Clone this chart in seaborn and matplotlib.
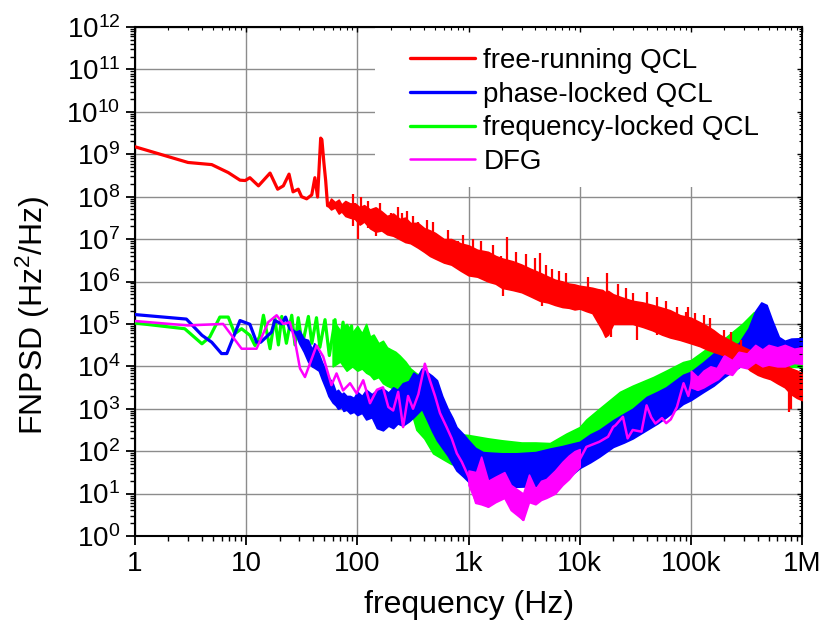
import numpy as np
import matplotlib
matplotlib.use("Agg")
import matplotlib.pyplot as plt
from matplotlib.patches import Rectangle
from matplotlib.ticker import LogLocator, NullFormatter, FixedLocator, FixedFormatter
import seaborn as sns

# ---------------- data ----------------
x_ticks = [1, 10, 100, 1e3, 1e4, 1e5, 1e6]
x_tick_labels = ["1", "10", "100", "1k", "10k", "100k", "1M"]
y_ticks = [10.0 ** k for k in range(0, 13)]
y_tick_labels = [r"$\mathregular{10^{%d}}$" % k for k in range(0, 13)]

series_names = ["free-running QCL", "phase-locked QCL", "frequency-locked QCL", "DFG"]
series_colors = ["#ff0000", "#0000ff", "#00ff00", "#ff00ff"]

# free-running QCL
red_line_f = [1, 3.0, 4.9, 6.9, 8.8, 9.8, 10.8, 12.9, 16.4, 19.2, 21.6, 24.3, 26.4, 29.4,
              31.5, 35, 38.9, 41.5, 43.9, 46.8, 48, 50, 51.9, 54, 58]
red_line_v = [1.5e9, 6.4e8, 5.7e8, 3.7e8, 2.45e8, 2.4e8, 2.8e8, 1.8e8, 3.6e8, 1.5e8, 1.8e8,
              3.4e8, 1.3e8, 1.5e8, 1.0e8, 8.9e7, 1.1e8, 2.8e8, 9.8e7, 2.4e9, 2.2e9, 6.4e8,
              2.4e8, 6.1e7, 7.0e7]
red_band_f = [54, 58, 63, 68, 72, 78, 86, 95, 105, 115, 130, 146, 165, 185, 210, 240, 270,
              300, 350, 400, 450, 500, 600, 700, 850, 1000, 1200, 1500, 1750, 2000, 2500,
              3000, 3600, 4400, 5200, 6000, 7000, 8000, 9000, 10000, 11500, 13000, 14500,
              16000, 17000, 18000, 20000, 24000, 30000, 37000, 45000, 55000, 65000, 80000,
              100000, 120000, 140000, 160000, 180000, 210000, 250000, 300000, 340000, 400000,
              450000, 520000, 600000, 700000, 800000, 900000, 1000000]
red_band_lo = [6.1e7, 5.0e7, 5.6e7, 4.0e7, 4.5e7, 3.5e7, 3.2e7, 3.0e7, 2.2e7, 2.6e7, 1.8e7,
               1.5e7, 1.6e7, 1.3e7, 1.2e7, 1.0e7, 8.5e6, 8.0e6, 6.3e6, 5.0e6, 4.0e6, 3.5e6,
               2.8e6, 2.5e6, 1.8e6, 1.4e6, 1.3e6, 1.0e6, 8.9e5, 7.1e5, 6.3e5, 5.6e5, 4.5e5,
               3.5e5, 3.2e5, 2.8e5, 2.5e5, 2.4e5, 2.2e5, 2.3e5, 2.0e5, 1.8e5, 1.1e5, 7.1e4,
               5.0e4, 5.6e4, 1.0e5, 1.0e5, 1.0e5, 8.5e4, 7.1e4, 5.6e4, 4.8e4, 4.2e4, 3.5e4,
               3.0e4, 2.5e4, 2.2e4, 2.0e4, 1.7e4, 1.4e4, 1.1e4, 8.1e3, 6.3e3, 5.6e3, 5.0e3,
               4.0e3, 3.2e3, 2.2e3, 1.8e3, 1.6e3]
red_band_hi = [6.1e7, 9.0e7, 7.4e7, 8.5e7, 6.5e7, 7.9e7, 6.9e7, 7.0e7, 5.6e7, 6.3e7, 5.0e7,
               5.6e7, 4.5e7, 3.5e7, 4.0e7, 3.0e7, 3.2e7, 2.4e7, 2.4e7, 1.8e7, 1.6e7, 1.4e7,
               1.0e7, 1.0e7, 7.9e6, 7.1e6, 5.6e6, 5.0e6, 4.0e6, 3.5e6, 3.0e6, 2.5e6, 2.0e6,
               1.6e6, 1.3e6, 1.1e6, 1.0e6, 8.9e5, 8.5e5, 7.9e5, 7.5e5, 7.1e5, 6.6e5, 6.3e5,
               5.6e5, 6.0e5, 5.0e5, 4.2e5, 3.5e5, 3.2e5, 2.8e5, 2.4e5, 2.1e5, 1.6e5, 1.4e5,
               1.1e5, 8.9e4, 7.1e4, 5.6e4, 4.5e4, 3.5e4, 2.8e4, 2.4e4, 2.0e4, 1.8e4, 1.6e4,
               1.4e4, 1.1e4, 8.9e3, 7.9e3, 6.9e3]
red_spike_f = [92, 102, 108, 125, 146, 160, 200, 230, 250, 280, 320, 350, 420, 480, 550, 650,
               800, 900, 1100, 1300, 1650, 1970, 2050, 2200, 2700, 3300, 4000, 4400, 4600,
               5000, 5600, 6500, 7500, 12000, 17500, 19000, 22000, 26000, 30000, 33000, 40000,
               50000, 60000, 75000, 90000, 95000, 110000, 130000, 150000, 200000, 230000,
               280000, 500000, 650000, 770000, 800000]
red_spike_lo = [2.0e7, 1.0e7, 2.2e7, 1.8e7, 1.2e7, 1.6e7, 1.4e7, 1.2e7, 1.6e7, 8.5e6, 8.0e6,
                1.0e7, 5.0e6, 4.0e6, 4.0e6, 2.8e6, 2.5e6, 1.8e6, 1.4e6, 1.3e6, 1.0e6, 1.5e6,
                4.5e5, 2.0e6, 6.3e5, 5.6e5, 4.5e5, 8.0e5, 2.7e5, 3.2e5, 3.2e5, 2.8e5, 2.5e5,
                2.0e5, 3.2e5, 4.8e4, 1.0e5, 1.0e5, 1.6e5, 4.1e4, 8.5e4, 5.6e4, 1.0e5, 4.2e4,
                6.3e4, 6.3e4, 3.5e4, 3.0e4, 2.5e4, 2.0e4, 1.7e4, 1.1e4, 5.0e3, 4.0e3, 8.3e2,
                1.0e3]
red_spike_hi = [1.15e8, 4.0e7, 1.0e8, 8.0e7, 3.0e7, 7.1e7, 4.2e7, 5.6e7, 4.2e7, 4.5e7, 3.5e7,
                2.5e7, 2.8e7, 2.5e7, 1.0e7, 1.6e7, 9.1e6, 1.26e7, 1.0e7, 8.9e6, 7.1e6, 4.0e6,
                2.0e6, 1.1e7, 5.0e6, 4.5e6, 3.5e6, 4.6e6, 8.0e5, 2.5e6, 2.0e6, 1.8e6, 1.6e6,
                1.26e6, 1.55e6, 2.0e5, 8.9e5, 7.1e5, 5.5e5, 1.3e5, 5.6e5, 4.2e5, 3.5e5, 2.5e5,
                1.9e5, 2.5e5, 1.8e5, 1.6e5, 1.4e5, 7.1e4, 6.3e4, 4.2e4, 2.5e4, 2.0e4, 3.2e3,
                4.0e3]

# phase-locked QCL
blue_line_f = [1, 2.9, 4.0, 4.9, 6.0, 6.7, 8.8, 10.8, 12.4, 13.5, 16.9, 18.1, 20.9, 22.6,
               24.7, 27.4, 30]
blue_line_v = [1.66e5, 1.3e5, 5.4e4, 3.7e4, 2.0e4, 2.0e4, 1.2e5, 9.8e4, 3.7e4, 3.7e4, 6.4e4,
               1.2e5, 1.0e5, 1.45e5, 7.7e4, 6.4e4, 5.0e4]
blue_band_f = [27.4, 30, 33, 36, 39, 41, 45, 48, 52, 55, 60, 64, 67, 72, 75, 80, 86, 93, 100,
               110, 120, 135, 150, 170, 190, 210, 230, 256, 290, 320, 350, 380, 430, 470, 520,
               580, 650, 720, 780, 900, 1000, 1150, 1350, 1600, 2000, 2700, 4000, 5400, 7000,
               8500, 10000, 12500, 15000, 20000, 25000, 30000, 40000, 50000, 60000, 85000,
               100000, 130000, 160000, 200000, 270000, 330000, 380000, 430000, 480000, 540000,
               620000, 700000, 800000, 1000000]
blue_band_lo = [6.4e4, 3.5e4, 2.2e4, 1.3e4, 1.0e4, 9.3e3, 7.9e3, 5.0e3, 3.0e3, 2.0e3, 1.4e3,
                1.2e3, 1.0e3, 1.1e3, 8.9e2, 9.5e2, 7.8e2, 8.5e2, 7.1e2, 8.0e2, 5.6e2, 6.3e2,
                3.5e2, 3.1e2, 4.0e2, 3.5e2, 4.5e2, 4.0e2, 5.0e2, 6.3e2, 8.0e2, 1.0e3, 5.0e2,
                3.0e2, 1.8e2, 1.2e2, 79, 50, 35, 25, 19, 17, 16, 15, 15, 14.5, 15, 16, 20, 28,
                40, 55, 74, 126, 160, 200, 316, 450, 630, 1.3e3, 1.6e3, 2.5e3, 3.5e3, 5.6e3,
                9.5e3, 1.26e4, 2.0e4, 2.5e4, 2.8e4, 2.2e4, 2.2e4, 2.0e4, 2.0e4, 2.4e4]
blue_band_hi = [6.4e4, 7.1e4, 4.5e4, 4.2e4, 2.5e4, 3.5e4, 2.0e4, 1.26e4, 8.0e3, 5.6e3, 4.0e3,
                2.5e3, 2.8e3, 2.2e3, 2.4e3, 2.0e3, 2.0e3, 1.8e3, 2.5e3, 2.0e3, 2.8e3, 2.2e3,
                2.8e3, 3.0e3, 2.4e3, 3.2e3, 2.8e3, 4.0e3, 4.5e3, 7.1e3, 6.0e3, 8.9e3, 7.1e3,
                6.0e3, 4.7e3, 2.0e3, 1.0e3, 6.0e2, 3.7e2, 2.5e2, 1.8e2, 1.2e2, 95, 92, 89, 89,
                95, 115, 132, 150, 166, 250, 316, 537, 760, 1.0e3, 1.9e3, 2.5e3, 3.2e3, 6.3e3,
                7.4e3, 1.26e4, 2.0e4, 2.5e4, 3.5e4, 7.9e4, 2.0e5, 3.2e5, 2.8e5, 1.2e5, 4.9e4,
                4.0e4, 4.5e4, 4.6e4]

# frequency-locked QCL
green_line_f = [1, 2.8, 4.0, 4.7, 5.8, 6.9, 7.9, 9.1, 10.8, 12.0, 13.2, 14.3, 16.4, 18.1,
                19.5, 20.9, 23, 25.7, 27.5, 29.4, 32, 36.3, 39, 42.9, 46, 51.2, 56, 63, 68,
                74.4, 80, 88.7, 95]
green_line_v = [1.05e5, 7.7e4, 3.4e4, 4.9e4, 1.45e5, 1.45e5, 5.9e4, 7.7e4, 5.4e4, 3.1e4,
                5.0e4, 1.6e5, 2.6e4, 1.4e5, 3.2e4, 1.5e5, 3.5e4, 1.6e5, 3.2e4, 1.4e5, 3.2e4,
                1.5e5, 3.5e4, 1.4e5, 2.8e4, 1.26e5, 1.8e4, 1.26e5, 2.0e4, 1.1e5, 1.3e4, 9.0e4,
                1.0e4]
green_band_f = [60, 70, 80, 90, 100, 110, 120, 130, 140, 155, 170, 185, 200, 220, 240, 270,
                300, 340, 400, 480, 600, 700, 840, 1000, 1500, 2000, 3000, 4000, 5400, 7600,
                10000, 11500, 15000, 23000, 30000, 46000, 60000, 85000, 100000, 160000,
                200000, 290000, 370000, 420000, 450000, 500000, 560000, 620000, 700000,
                1000000]
green_band_lo = [1.0e4, 1.3e4, 7.9e3, 1.0e4, 7.9e3, 8.9e3, 7.1e3, 6.3e3, 5.0e3, 5.6e3, 4.0e3,
                 3.5e3, 3.2e3, 2.8e3, 2.3e3, 2.0e3, 1.0e3, 3.2e2, 2.0e2, 89, 63, 50, 45, 45,
                 50, 56, 60, 63, 63, 100, 126, 200, 316, 560, 800, 1.0e3, 1.6e3, 2.8e3, 4.0e3,
                 7.1e3, 1.0e4, 2.0e4, 2.5e4, 2.5e4, 3.5e4, 3.2e4, 2.5e4, 1.26e4, 1.0e4, 9.5e3]
green_band_hi = [1.26e5, 7.0e4, 1.0e5, 6.3e4, 8.9e4, 6.0e4, 1.0e5, 5.0e4, 5.6e4, 3.5e4,
                 4.0e4, 2.8e4, 2.5e4, 2.2e4, 1.8e4, 1.3e4, 8.9e3, 6.8e3, 5.6e3, 3.2e3, 1.0e3,
                 5.0e2, 2.5e2, 2.4e2, 2.0e2, 1.8e2, 1.6e2, 1.6e2, 1.55e2, 2.6e2, 3.7e2, 5.6e2,
                 1.0e3, 2.5e3, 3.5e3, 5.6e3, 7.9e3, 1.26e4, 1.4e4, 3.4e4, 4.5e4, 1.0e5,
                 1.9e5, 1.6e5, 9.0e4, 7.1e4, 6.3e4, 3.5e4, 3.2e4, 3.2e4]

# DFG
dfg_line_f = [1, 3.0, 6.2, 9.1, 12.4, 15.8, 18.8, 21.6, 24.7, 27.4, 30.5, 33.8, 43, 49.3,
              58.5, 65, 74.5, 86, 98.5, 113, 130, 150, 170, 190, 210, 233, 258, 286, 317, 354,
              405, 449, 500, 554, 635, 706, 785, 870, 1000, 1170, 1300, 1500, 1750, 2100, 2400,
              3100, 3500, 4000, 4500, 5000, 6000, 7000, 8000, 9000, 10000, 11500, 15000, 18000,
              20000, 21000, 24500, 27000, 30000, 36000, 40000, 44000, 48000, 55000, 60000,
              66000, 75000, 86000, 95000, 105000, 115000, 130000, 150000, 170000, 200000,
              230000, 270000, 320000, 380000, 450000, 550000, 700000, 1000000]
dfg_line_v = [1.17e5, 9.2e4, 1.0e5, 2.6e4, 2.6e4, 1.1e5, 1.6e5, 1.0e5, 1.1e5, 4.1e4, 8.9e3,
              5.6e3, 3.1e4, 1.7e4, 3.6e3, 6.8e3, 2.7e3, 4.0e3, 2.3e3, 4.7e3, 1.35e3, 2.8e3,
              3.2e3, 1.1e3, 9.1e2, 2.5e3, 3.7e2, 2.0e3, 1.0e3, 2.2e3, 1.15e4, 4.7e3, 2.0e3,
              7.9e2, 3.7e2, 2.0e2, 89, 56, 25, 6.0, 20, 5.0, 15, 20, 6.0, 2.4, 15, 7.0, 12, 13,
              20, 35, 50, 70, 63, 126, 166, 219, 372, 407, 646, 200, 316, 288, 1.2e3, 631, 447,
              603, 457, 562, 1.1e3, 4.0e3, 2.0e3, 6.2e3, 2.8e3, 3.5e3, 6.8e3, 7.9e3, 1.66e4,
              9.5e3, 2.0e4, 1.78e4, 2.8e4, 2.0e4, 2.5e4, 2.0e4, 2.0e4]
dfg_band1_f = [1000, 1170, 1300, 1500, 1750, 2100, 2400, 3100, 3500, 4000, 4500, 5000, 6000,
               7000, 8000, 9000, 10000]
dfg_band1_lo = [16, 6.0, 5.6, 4.9, 6.3, 7.9, 4.1, 2.4, 6.3, 5.6, 7.1, 7.9, 10, 16, 22, 32, 43]
dfg_band1_hi = [35, 32, 74, 20, 25, 32, 16, 10, 28, 13, 20, 22, 35, 56, 79, 100, 112]
dfg_band2_f = [100000, 115000, 130000, 150000, 175000, 200000, 235000, 270000, 320000,
               380000, 440000, 500000, 600000, 700000, 850000, 1000000]
dfg_band2_lo = [3.2e3, 2.8e3, 3.2e3, 4.0e3, 5.0e3, 7.1e3, 6.3e3, 1.0e4, 9.0e3, 1.26e4,
                1.0e4, 1.1e4, 1.0e4, 1.0e4, 1.2e4, 1.15e4]
dfg_band2_hi = [7.9e3, 5.6e3, 7.9e3, 1.0e4, 8.9e3, 1.8e4, 1.4e4, 2.2e4, 2.0e4, 3.2e4,
                2.5e4, 3.2e4, 2.8e4, 3.2e4, 2.6e4, 2.8e4]

# ---------------- style ----------------
sns.set_theme(style="ticks")
plt.rcParams["font.family"] = ["Liberation Sans", "DejaVu Sans"]
plt.rcParams["mathtext.fontset"] = "custom"
plt.rcParams["mathtext.rm"] = "Liberation Sans"
plt.rcParams["mathtext.it"] = "Liberation Sans:italic"
plt.rcParams["mathtext.bf"] = "Liberation Sans:bold"
for key in ["text.color", "axes.labelcolor", "xtick.color", "ytick.color", "axes.edgecolor"]:
    plt.rcParams[key] = "black"

fig = plt.figure(figsize=(8.26, 6.37), dpi=100)
ax = fig.add_axes([135 / 826, 1 - 536 / 637, 667 / 826, 509 / 637])
ax.set_xscale("log")
ax.set_yscale("log")

lw = 2.3
z = {"free-running QCL": 5, "phase-locked QCL": 4, "frequency-locked QCL": 3, "DFG": 6}


def band(f, lo, hi, color, zorder):
    ax.fill_between(f, lo, hi, facecolor=color, edgecolor=color, linewidth=1.2, zorder=zorder)


# green
band(green_band_f, green_band_lo, green_band_hi, series_colors[2], z["frequency-locked QCL"])
sns.lineplot(x=green_line_f, y=green_line_v, ax=ax, color=series_colors[2], linewidth=lw,
             estimator=None, sort=False, zorder=z["frequency-locked QCL"])
# blue
band(blue_band_f, blue_band_lo, blue_band_hi, series_colors[1], z["phase-locked QCL"])
sns.lineplot(x=blue_line_f, y=blue_line_v, ax=ax, color=series_colors[1], linewidth=lw,
             estimator=None, sort=False, zorder=z["phase-locked QCL"])
# red
band(red_band_f, red_band_lo, red_band_hi, series_colors[0], z["free-running QCL"])
sns.lineplot(x=red_line_f, y=red_line_v, ax=ax, color=series_colors[0], linewidth=lw,
             estimator=None, sort=False, zorder=z["free-running QCL"])
ax.vlines(red_spike_f, red_spike_lo, red_spike_hi, color=series_colors[0], linewidth=1.6,
          zorder=z["free-running QCL"])
# DFG
band(dfg_band1_f, dfg_band1_lo, dfg_band1_hi, series_colors[3], z["DFG"])
band(dfg_band2_f, dfg_band2_lo, dfg_band2_hi, series_colors[3], z["DFG"])
sns.lineplot(x=dfg_line_f, y=dfg_line_v, ax=ax, color=series_colors[3], linewidth=1.8,
             estimator=None, sort=False, zorder=z["DFG"])

ax.set_xlim(1, 1e6)
ax.set_ylim(1, 1e12)

# ticks
ax.xaxis.set_major_locator(FixedLocator(x_ticks))
ax.xaxis.set_major_formatter(FixedFormatter(x_tick_labels))
ax.xaxis.set_minor_locator(LogLocator(base=10, subs=np.arange(2, 10), numticks=50))
ax.xaxis.set_minor_formatter(NullFormatter())
ax.yaxis.set_major_locator(FixedLocator(y_ticks))
ax.yaxis.set_major_formatter(FixedFormatter(y_tick_labels))
ax.yaxis.set_minor_locator(LogLocator(base=10, subs=np.arange(2, 10), numticks=50))
ax.yaxis.set_minor_formatter(NullFormatter())
ax.tick_params(which="major", direction="out", length=6.5, width=1.3, labelsize=20,
               colors="black", pad=4, top=False, right=False)
ax.tick_params(which="minor", direction="out", length=3.5, width=1.0, top=False, right=False)

for s in ax.spines.values():
    s.set_linewidth(1.5)
    s.set_color("black")

ax.set_axisbelow(True)
ax.grid(True, which="major", color="#8c8c8c", linewidth=1.0)
ax.grid(False, which="minor")

# top / right inward ticks
axt = ax.twiny()
axt.set_xscale("log")
axt.set_xlim(1, 1e6)
axt.xaxis.set_major_locator(FixedLocator(x_ticks))
axt.xaxis.set_minor_locator(LogLocator(base=10, subs=np.arange(2, 10), numticks=50))
axt.tick_params(axis="x", which="major", direction="in", length=3.5, width=1.0,
                top=True, bottom=False, labeltop=False, labelbottom=False)
axt.tick_params(axis="x", which="minor", direction="in", length=2, width=0.8,
                top=True, bottom=False, labeltop=False)
axr = ax.twinx()
axr.set_yscale("log")
axr.set_ylim(1, 1e12)
axr.yaxis.set_major_locator(FixedLocator(y_ticks))
axr.yaxis.set_minor_locator(LogLocator(base=10, subs=np.arange(2, 10), numticks=50))
axr.tick_params(axis="y", which="major", direction="in", length=3.5, width=1.0,
                right=True, left=False, labelright=False, labelleft=False)
axr.tick_params(axis="y", which="minor", direction="in", length=2, width=0.8,
                right=True, left=False, labelright=False)
for a in (axt, axr):
    for s in a.spines.values():
        s.set_visible(False)

# labels
ax.set_xlabel("frequency (Hz)", fontsize=23)
ax.set_ylabel(r"FNPSD (Hz$^\mathregular{2}$/Hz)", fontsize=23)
ax.xaxis.set_label_coords(0.5007, -0.106)
ax.yaxis.set_label_coords(-0.124, 0.434)

# legend background and legend
ax.add_patch(Rectangle((0.36, 0.686), 0.64, 0.314, transform=ax.transAxes,
                       facecolor="white", edgecolor="none", zorder=1))
handles = [plt.Line2D([], [], color=c, linewidth=(1.8 if n == "DFG" else 2.4))
           for n, c in zip(series_names, series_colors)]
leg = ax.legend(handles, series_names, loc="upper left", bbox_to_anchor=(0.412, 0.959),
                frameon=False, fontsize=20, handlelength=2.35, handletextpad=0.3,
                labelspacing=0.28, borderpad=0, borderaxespad=0)
leg.set_zorder(10)

fig.savefig("out.png", dpi=100)
